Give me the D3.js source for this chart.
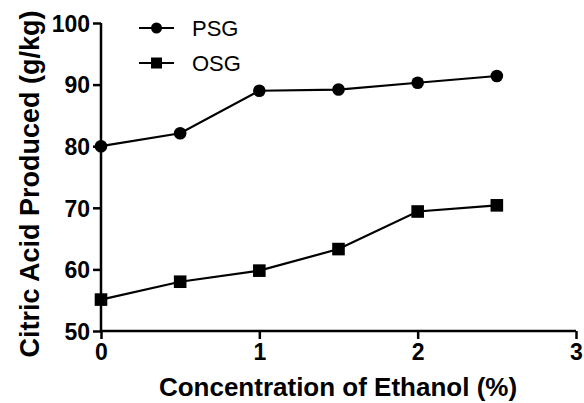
<!DOCTYPE html>
<html>
<head>
<meta charset="utf-8">
<script src="https://cdn.jsdelivr.net/npm/d3@7"></script>
<style>
  body { margin: 0; background: #fff; }
  svg { display: block; }
  text { font-family: "Liberation Sans", Arial, sans-serif; fill: #000; }
</style>
</head>
<body>
<div id="chart"></div>
<script>
// ethanol concentration (%)
var ethanol = [0, 0.5, 1, 1.5, 2, 2.5];
var psg = [80.0, 82.1, 89.0, 89.2, 90.3, 91.4];
var osg = [55.1, 58.0, 59.8, 63.3, 69.4, 70.4];
var xTicks = [0, 1, 2, 3];
var yTicks = [50, 60, 70, 80, 90, 100];

var width = 584, height = 403,
    margin = {top: 23, right: 8, bottom: 72, left: 101};

var svg = d3.select("#chart").append("svg")
  .attr("width", width)
  .attr("height", height);

var x = d3.scaleLinear().domain([0, 3]).range([margin.left, width - margin.right]);
var y = d3.scaleLinear().domain([50, 100]).range([height - margin.bottom, margin.top]);

// axes
var gx = svg.append("g")
  .attr("transform", "translate(0," + y(50) + ")")
  .call(d3.axisBottom(x).tickValues(xTicks).tickSize(8).tickPadding(5).tickFormat(d3.format("d")));
var gy = svg.append("g")
  .attr("transform", "translate(" + x(0) + ",0)")
  .call(d3.axisLeft(y).tickValues(yTicks).tickSize(8).tickPadding(3).tickFormat(d3.format("d")));

[gx, gy].forEach(function(g) {
  g.select(".domain").attr("stroke", "#000").attr("stroke-width", 2.5)
    .attr("d", g === gx ? "M" + x(0) + ",0H" + x(3) : "M0," + y(100) + "V" + y(50));
  g.selectAll(".tick line").attr("stroke", "#000").attr("stroke-width", 2.5);
  g.selectAll(".tick text").attr("font-size", 23).attr("font-weight", "bold").attr("fill", "#000");
});
gy.selectAll(".tick text").attr("dy", "0.36em");

// axis titles
svg.append("text")
  .attr("x", 338).attr("y", 396)
  .attr("text-anchor", "middle")
  .attr("font-size", 26).attr("font-weight", "bold")
  .text("Concentration of Ethanol (%)");
svg.append("text")
  .attr("transform", "translate(39,184) rotate(-90)")
  .attr("text-anchor", "middle")
  .attr("font-size", 27).attr("font-weight", "bold")
  .text("Citric Acid Produced (g/kg)");

var line = d3.line()
  .x(function(d) { return x(d[0]); })
  .y(function(d) { return y(d[1]); });

var psgPts = ethanol.map(function(e, i) { return [e, psg[i]]; });
var osgPts = ethanol.map(function(e, i) { return [e, osg[i]]; });

[psgPts, osgPts].forEach(function(pts) {
  svg.append("path")
    .datum(pts)
    .attr("fill", "none")
    .attr("stroke", "#000")
    .attr("stroke-width", 2.2)
    .attr("d", line);
});

svg.selectAll("circle.psg")
  .data(psgPts)
  .enter().append("circle")
  .attr("class", "psg")
  .attr("cx", function(d) { return x(d[0]); })
  .attr("cy", function(d) { return y(d[1]); })
  .attr("r", 6.3)
  .attr("fill", "#000");

svg.selectAll("rect.osg")
  .data(osgPts)
  .enter().append("rect")
  .attr("class", "osg")
  .attr("x", function(d) { return x(d[0]) - 6.3; })
  .attr("y", function(d) { return y(d[1]) - 6.3; })
  .attr("width", 12.6)
  .attr("height", 12.6)
  .attr("fill", "#000");

// legend
var legend = svg.append("g");
var items = [{name: "PSG", shape: "circle", ly: 28}, {name: "OSG", shape: "square", ly: 63}];
items.forEach(function(it) {
  legend.append("line")
    .attr("x1", 139).attr("x2", 174)
    .attr("y1", it.ly).attr("y2", it.ly)
    .attr("stroke", "#000").attr("stroke-width", 2.2);
  if (it.shape === "circle") {
    legend.append("circle").attr("cx", 156.5).attr("cy", it.ly).attr("r", 5.5).attr("fill", "#000");
  } else {
    legend.append("rect").attr("x", 151).attr("y", it.ly - 5.5).attr("width", 11).attr("height", 11).attr("fill", "#000");
  }
  legend.append("text")
    .attr("x", 192).attr("y", it.ly + 8)
    .attr("font-size", 22)
    .text(it.name);
});
</script>
</body>
</html>
